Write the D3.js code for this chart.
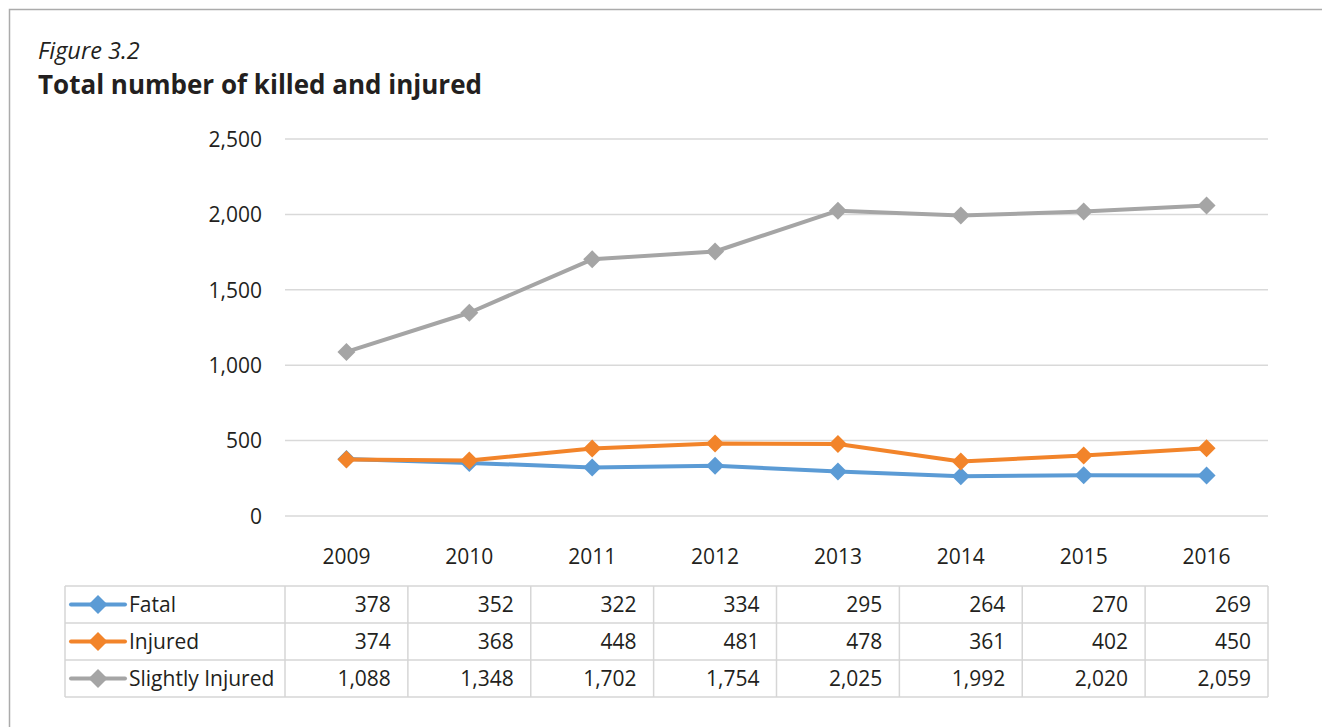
<!DOCTYPE html>
<html>
<head>
<meta charset="utf-8">
<script src="https://cdn.jsdelivr.net/npm/d3@7"></script>
<style>
  html, body { margin: 0; padding: 0; background: #fff; }
  svg { display: block; font-family: "Open Sans", "Noto Sans", sans-serif; }
</style>
</head>
<body>
<svg id="chart" width="1322" height="727"></svg>
<script>
const years = ["2009", "2010", "2011", "2012", "2013", "2014", "2015", "2016"];
const seriesNames = ["Fatal", "Injured", "Slightly Injured"];
const fatal = [378, 352, 322, 334, 295, 264, 270, 269];
const injured = [374, 368, 448, 481, 478, 361, 402, 450];
const slightlyInjured = [1088, 1348, 1702, 1754, 2025, 1992, 2020, 2059];
const yTicks = [0, 500, 1000, 1500, 2000, 2500];
const colors = ["#5B9BD5", "#F2842A", "#A5A5A5"];

(function () {
const series = [fatal, injured, slightlyInjured].map((vals, i) => ({ name: seriesNames[i], values: vals, color: colors[i] }));

const svg = d3.select("#chart");
const fmt = d3.format(",");
const textColor = "#231f20";

// outer frame
svg.append("path").attr("d", "M9.5,727 L9.5,9.5 L1322,9.5").attr("fill", "none").attr("stroke", "#ababab").attr("stroke-width", 1.5);

// titles
svg.append("text").attr("x", 38).attr("y", 58.5).attr("font-style", "italic").attr("font-size", 23.5).attr("fill", textColor).text("Figure 3.2");
svg.append("text").attr("x", 38).attr("y", 94).attr("font-weight", "bold").attr("font-size", 26).attr("fill", textColor).text("Total number of killed and injured");

const pLeft = 285, pRight = 1268, pTop = 139, pBottom = 516;
const x = d3.scaleBand().domain(years).range([pLeft, pRight]);
const y = d3.scaleLinear().domain([0, 2500]).range([pBottom, pTop]);

// gridlines
svg.append("g").selectAll("line").data(yTicks).join("line")
  .attr("x1", pLeft).attr("x2", pRight)
  .attr("y1", d => y(d)).attr("y2", d => y(d))
  .attr("stroke", "#d9d9d9").attr("stroke-width", 1.5);

// y axis labels
const yAxis = d3.axisLeft(y).tickValues(yTicks).tickFormat(fmt).tickSize(0).tickPadding(0);
const yg = svg.append("g").attr("transform", `translate(${262},0)`).call(yAxis);
yg.select(".domain").remove();
yg.selectAll("text").attr("font-size", 21).attr("fill", textColor).attr("font-family", "\"Open Sans\", sans-serif").attr("dy", "0.35em");

// x axis labels
const xAxis = d3.axisBottom(x).tickSize(0).tickPadding(0);
const xg = svg.append("g").attr("transform", `translate(0,${549})`).call(xAxis);
xg.select(".domain").remove();
xg.selectAll("text").attr("font-size", 21).attr("fill", textColor).attr("font-family", "\"Open Sans\", sans-serif");

// lines & markers
const line = d3.line().x((d, i) => x(years[i]) + x.bandwidth() / 2).y(d => y(d));
const diamond = (s) => `M0,${-s} L${s},0 L0,${s} L${-s},0 Z`;

series.forEach(s => {
  svg.append("path").datum(s.values).attr("d", line).attr("fill", "none")
    .attr("stroke", s.color).attr("stroke-width", 4).attr("stroke-linejoin", "round");
  svg.append("g").selectAll("path").data(s.values).join("path")
    .attr("transform", (d, i) => `translate(${x(years[i]) + x.bandwidth() / 2},${y(d)})`)
    .attr("d", diamond(9)).attr("fill", s.color);
});

// data table
const tLeft = 65, rowH = 37, tTop = 586;
const tg = svg.append("g");
const tableBottom = tTop + rowH * series.length;
const gridColor = "#d6d6d6";
d3.range(series.length + 1).forEach(r => {
  tg.append("line").attr("x1", tLeft).attr("x2", pRight).attr("y1", tTop + r * rowH).attr("y2", tTop + r * rowH)
    .attr("stroke", gridColor).attr("stroke-width", 1.5);
});
const vx = [tLeft].concat(years.map(yr => x(yr))).concat([pRight]);
vx.forEach(v => {
  tg.append("line").attr("x1", v).attr("x2", v).attr("y1", tTop).attr("y2", tableBottom)
    .attr("stroke", gridColor).attr("stroke-width", 1.5);
});

series.forEach((s, r) => {
  const cy = tTop + r * rowH + rowH / 2;
  tg.append("line").attr("x1", 71).attr("x2", 125).attr("y1", cy).attr("y2", cy)
    .attr("stroke", s.color).attr("stroke-width", 4).attr("stroke-linecap", "round");
  tg.append("path").attr("transform", `translate(98,${cy})`).attr("d", diamond(9.5)).attr("fill", s.color);
  tg.append("text").attr("x", 129).attr("y", cy).attr("dy", "0.35em").attr("font-size", 21).attr("fill", textColor).text(s.name);
  tg.selectAll(null).data(s.values).join("text")
    .attr("x", (d, i) => x(years[i]) + x.bandwidth() - 17)
    .attr("y", cy).attr("dy", "0.35em").attr("text-anchor", "end")
    .attr("font-size", 21).attr("fill", textColor).text(d => fmt(d));
});
})();
</script>
</body>
</html>
